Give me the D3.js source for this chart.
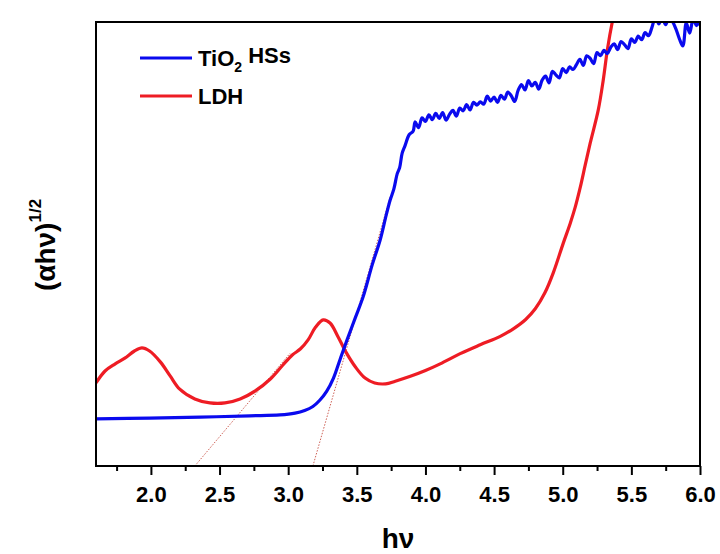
<!DOCTYPE html>
<html><head><meta charset="utf-8">
<script src="https://cdn.jsdelivr.net/npm/d3@7"></script>
<style>body{margin:0;background:#fff}svg text{font-family:"Liberation Sans",Arial,sans-serif;font-weight:bold}</style>
</head><body><svg id="c" width="720" height="554"></svg>
<script>
const xTicks = [2.0,2.5,3.0,3.5,4.0,4.5,5.0,5.5,6.0];
const xMinorTicks = [1.75,2.25,2.75,3.25,3.75,4.25,4.75,5.25,5.75];
const seriesNames = ["TiO\u2082 HSs","LDH"];
const tio2X = [1.60,1.99,2.36,2.72,2.94,3.05,3.12,3.18,3.23,3.28,3.33,3.378,3.429,3.488,3.546,3.612,3.670,3.714,3.743,3.770,3.794,3.812,3.830,3.852,3.881,
3.910,3.925,3.950,3.975,4.000,4.025,4.050,4.075,4.100,4.125,4.150,4.175,4.200,4.225,4.250,4.275,4.300,4.325,4.350,4.375,
4.400,4.425,4.450,4.475,4.500,4.525,4.550,4.575,4.600,4.625,4.650,4.675,4.700,4.725,4.750,4.775,4.800,4.825,4.850,4.875,
4.900,4.925,4.950,4.975,5.000,5.025,5.050,5.075,5.100,5.125,5.150,5.175,5.200,5.225,5.250,5.275,5.300,5.325,5.350,5.375,
5.400,5.425,5.450,5.475,5.500,5.525,5.550,5.575,5.600,5.625,5.650,5.675,5.700,5.725,5.750,5.775,5.800,5.825,5.850,5.875,
5.900,5.925,5.950,5.975,6.000];
const tio2Y = [10.6,10.8,11.0,11.3,11.5,11.9,12.5,13.4,14.8,16.8,19.8,24.0,28.4,33.3,38.1,45.3,50.9,56.5,59.9,62.4,65.8,67.2,70.4,72.2,74.6,
75.4,77.5,76.2,78.4,77.6,79.1,78.0,79.4,78.3,79.6,77.9,79.2,80.1,78.8,80.6,80.0,81.4,80.2,81.9,81.3,
82.0,81.5,83.3,82.2,83.1,81.9,83.5,82.6,84.2,83.4,82.1,84.6,85.9,84.7,86.8,85.6,86.4,84.9,86.9,87.8,
86.3,88.9,88.1,87.4,89.5,88.6,89.9,89.3,90.4,91.6,90.2,92.4,91.8,90.6,93.1,92.4,93.6,92.9,94.3,95.1,
93.8,95.6,94.9,94.0,96.2,95.4,96.8,96.0,97.6,96.9,98.8,101.0,99.6,100.8,99.4,101.2,100.1,98.4,96.2,94.6,
99.8,97.5,100.6,99.2,100.4];
const ldhX = [1.60,1.666,1.74,1.81,1.88,1.935,1.99,2.07,2.14,2.21,2.32,2.43,2.54,2.65,2.76,2.87,2.96,3.03,3.09,3.145,
3.20,3.255,3.305,3.36,3.42,3.49,3.56,3.63,3.71,3.78,3.89,4.00,4.107,4.253,4.399,4.545,4.640,4.730,4.800,4.870,4.931,
5.004,5.055,5.091,5.128,5.164,5.20,5.259,5.295,5.325,5.361,5.383];
const ldhY = [18.7,21.4,23.0,24.3,25.9,26.6,25.9,23.4,20.3,17.3,15.1,14.2,14.2,15.1,16.9,19.6,22.7,25.0,26.4,28.4,
31.3,32.9,32.2,29.3,25.7,22.3,19.8,18.7,18.5,19.1,20.2,21.5,23.0,25.3,27.3,29.2,30.9,33.0,35.4,39.0,43.5,
50.2,54.7,58.3,62.8,67.8,72.7,80.2,86.9,93.7,100.0,103.0];
const tangentLines = [[[2.32,0],[3.014,25.4]],[[3.18,0],[3.743,60.6]]];

const svg = d3.select("#c");
const m = {l:96, r:20, t:22, b:88};
const W = 720 - m.l - m.r, H = 554 - m.t - m.b;
const x = d3.scaleLinear().domain([1.6,6.0]).range([m.l, m.l+W]);
const y = d3.scaleLinear().domain([0,100]).range([m.t+H, m.t]);

svg.append("defs").append("clipPath").attr("id","clip").append("rect")
  .attr("x",m.l).attr("y",m.t).attr("width",W).attr("height",H);

const line = d3.line().x(d=>x(d[0])).y(d=>y(d[1])).curve(d3.curveCatmullRom.alpha(0.5));
const g = svg.append("g").attr("clip-path","url(#clip)");
tangentLines.forEach(t=>{
  g.append("path").attr("d", d3.line().x(d=>x(d[0])).y(d=>y(d[1]))(t))
   .attr("fill","none").attr("stroke","#c0392b").attr("stroke-width",0.8).attr("stroke-dasharray","1.5,1.5");
});
g.append("path").datum(ldhX.map((v,i)=>[v,ldhY[i]])).attr("d",line)
  .attr("fill","none").attr("stroke","#ee1c24").attr("stroke-width",3.2);
g.append("path").datum(tio2X.map((v,i)=>[v,tio2Y[i]])).attr("d",line)
  .attr("fill","none").attr("stroke","#0a0aee").attr("stroke-width",3.2).attr("stroke-linejoin","round");

// frame
svg.append("rect").attr("x",m.l).attr("y",m.t).attr("width",W).attr("height",H)
  .attr("fill","none").attr("stroke","#000").attr("stroke-width",2);

// x axis
const xa = svg.append("g").attr("transform",`translate(0,${m.t+H})`)
  .call(d3.axisBottom(x).tickValues(xTicks).tickFormat(d3.format(".1f")).tickSize(9).tickSizeOuter(0));
xa.select(".domain").remove();
xa.selectAll("line").attr("stroke","#000").attr("stroke-width",2);
xa.selectAll("text").attr("font-size",22).attr("y",0).attr("dy",36).attr("fill","#000");
const xm = svg.append("g").attr("transform",`translate(0,${m.t+H})`)
  .call(d3.axisBottom(x).tickValues(xMinorTicks).tickFormat("").tickSize(5).tickSizeOuter(0));
xm.select(".domain").remove();
xm.selectAll("line").attr("stroke","#000").attr("stroke-width",2);

// axis labels
svg.append("text").attr("x", m.l+W/2).attr("y",548).attr("text-anchor","middle")
  .attr("font-size",28).text("h\u03bd");
const yl = svg.append("text").attr("transform","translate(55,245) rotate(-90)").attr("text-anchor","middle")
  .attr("font-size",28);
yl.append("tspan").text("(\u03b1h\u03bd)");
yl.append("tspan").attr("font-size",17).attr("dy","-0.8em").text("1/2");

// legend
const colors = ["#0a0aee","#ee1c24"];
const ly = [58,96];
seriesNames.forEach((n,i)=>{
  svg.append("line").attr("x1",140).attr("x2",192).attr("y1",ly[i]).attr("y2",ly[i])
    .attr("stroke",colors[i]).attr("stroke-width",3.2);
  const t = svg.append("text").attr("x",198).attr("y",ly[i]+8).attr("font-size",22);
  if(i===0){
    t.append("tspan").text("TiO");
    t.append("tspan").attr("font-size",14).attr("dy","0.4em").text("2");
    t.append("tspan").attr("dy","-0.4em").text(" HSs");
  } else t.text(n);
});
</script></body></html>
